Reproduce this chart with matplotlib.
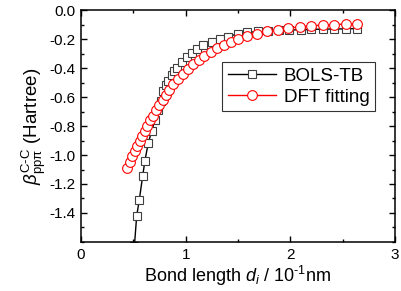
import matplotlib
matplotlib.use("Agg")
import matplotlib.pyplot as plt
from matplotlib.ticker import MultipleLocator

plt.rcParams['font.family'] = ['Liberation Sans', 'DejaVu Sans']
plt.rcParams['mathtext.fontset'] = 'custom'
plt.rcParams['mathtext.rm'] = 'Liberation Sans'
plt.rcParams['mathtext.it'] = 'Liberation Sans:italic'
plt.rcParams['mathtext.bf'] = 'Liberation Sans:bold'

# BOLS-TB data (bond length in 0.1 nm, beta in Hartree)
bols_x = [0.49, 0.51, 0.532, 0.557, 0.589, 0.611, 0.643, 0.675, 0.707, 0.735, 0.76,
          0.786, 0.81, 0.834, 0.866, 0.89, 0.914, 0.962, 1.01, 1.057, 1.105, 1.168,
          1.248, 1.328, 1.40, 1.5, 1.59, 1.69, 1.79, 1.89, 1.99, 2.1, 2.2, 2.31,
          2.42, 2.53, 2.64]
bols_y = [-1.95, -1.63, -1.42, -1.31, -1.146, -1.038, -0.916, -0.836, -0.756, -0.69,
          -0.625, -0.561, -0.52, -0.49, -0.447, -0.42, -0.401, -0.36, -0.325, -0.295,
          -0.27, -0.243, -0.218, -0.197, -0.183, -0.165, -0.155, -0.148, -0.143,
          -0.140, -0.138, -0.136, -0.134, -0.132, -0.131, -0.130, -0.128]

# DFT fitting data
dft_x = [0.44, 0.465, 0.49, 0.513, 0.537, 0.56, 0.585, 0.61, 0.635, 0.662, 0.69,
         0.72, 0.75, 0.78, 0.81, 0.845, 0.882, 0.925, 0.97, 1.02, 1.07, 1.125, 1.18,
         1.24, 1.3, 1.365, 1.43, 1.5, 1.59, 1.68, 1.78, 1.88, 1.98, 2.09, 2.2, 2.31,
         2.42, 2.53, 2.64]
dft_y = [-1.09, -1.05, -1.01, -0.975, -0.94, -0.905, -0.868, -0.832, -0.797, -0.762,
         -0.728, -0.692, -0.657, -0.623, -0.587, -0.55, -0.512, -0.475, -0.44, -0.405,
         -0.373, -0.343, -0.315, -0.288, -0.263, -0.24, -0.22, -0.2, -0.18, -0.163,
         -0.148, -0.136, -0.125, -0.116, -0.109, -0.104, -0.1, -0.097, -0.095]

fig = plt.figure(figsize=(4.02, 2.91), dpi=100)
ax = fig.add_axes([0.2015, 0.1684, 0.781, 0.7972])

ax.plot(bols_x, bols_y, '-', color='black', lw=1.0, marker='s', ms=5.8,
        mfc='white', mec='#404040', mew=0.8, label='BOLS-TB', zorder=2)
ax.plot(dft_x, dft_y, '-', color='red', lw=1.0, marker='o', ms=7.0,
        mfc='white', mec='red', mew=0.8, label='DFT fitting', zorder=3)

ax.set_xlim(0, 3)
ax.set_ylim(-1.6, 0.0)
ax.xaxis.set_minor_locator(MultipleLocator(0.5))
ax.yaxis.set_minor_locator(MultipleLocator(0.1))
ax.set_yticks([-1.4, -1.2, -1.0, -0.8, -0.6, -0.4, -0.2, 0.0])
ax.set_yticklabels(['-1.4', '-1.2', '-1.0', '-0.8', '-0.6', '-0.4', '-0.2', '0.0'])
ax.set_xticks([0, 1, 2, 3])
ax.set_xticklabels(['0', '1', '2', '3'])
ax.tick_params(which='both', direction='in', top=True, right=True, labelsize=11,
               width=1.0)
ax.tick_params(which='major', length=4, pad=4)
ax.tick_params(which='minor', length=2.5)
for s in ax.spines.values():
    s.set_linewidth(1.1)

ax.set_xlabel(r'Bond length $d_i$ / 10$^{\rm \text{-}1}$nm', fontsize=13, labelpad=2)
ax.set_ylabel(r'$\beta^{\rm C\text{-}C}_{\rm pp\pi}$ (Hartree)', fontsize=13.5, labelpad=1)

leg = ax.legend(loc='upper left', bbox_to_anchor=(0.449, 0.776), fontsize=13.5,
                frameon=True, fancybox=False, edgecolor='black', handlelength=2.6,
                borderpad=0.3, labelspacing=0.2, handletextpad=0.4,
                borderaxespad=0.0)
leg.get_frame().set_linewidth(0.8)

fig.savefig('out.png', dpi=100)
